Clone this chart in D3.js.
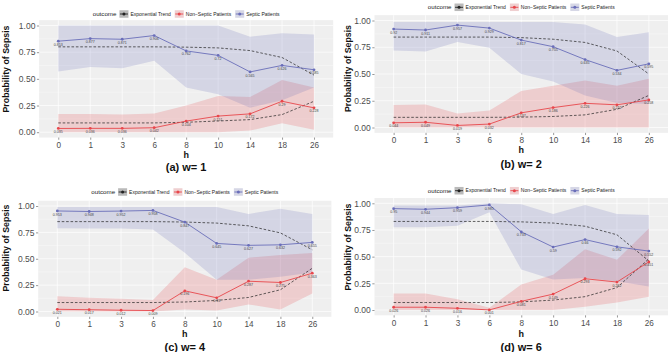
<!DOCTYPE html>
<html><head><meta charset="utf-8">
<script src="https://cdn.jsdelivr.net/npm/d3@7"></script>
<style>body{margin:0;background:#fff}svg{display:block}text{font-family:"Liberation Sans",Arial,Helvetica,sans-serif}</style>
</head><body><svg id="c" width="668" height="352"></svg>
<script>
// ---- data ----
const hours = ["0","1","3","6","8","10","14","18","26"];
const yTicks = [0, 0.25, 0.5, 0.75, 1];
const panelTitles = ["(a) w= 1", "(b) w= 2", "(c) w= 4", "(d) w= 6"];
const legendTitle = "outcome";
const legendLabels = ["Exponential Trend", "Non\u2212Septic Patients", "Septic Patients"];

const septicA = [0.853,0.877,0.871,0.906,0.762,0.72,0.565,0.626,0.585];
const nonSepticA = [0.035,0.036,0.036,0.042,0.104,0.151,0.172,0.29,0.228];
const septicTrendA = [0.80,0.80,0.80,0.80,0.797,0.79,0.765,0.70,0.535];
const nonSepticTrendA = [0.087,0.087,0.087,0.087,0.093,0.105,0.118,0.165,0.29];
const septicUpperA = [1,1,1,1,1,1,0.895,0.927,0.915];
const septicLowerA = [0.57,0.61,0.60,0.67,0.42,0.355,0.23,0.30,0.42];
const nonSepticUpperA = [0.17,0.17,0.165,0.175,0.25,0.34,0.33,0.49,0.42];
const nonSepticLowerA = [0,0,0,0,0,0,0.015,0.085,0.022];

const septicB = [0.92,0.911,0.957,0.929,0.817,0.755,0.635,0.534,0.595];
const nonSepticB = [0.044,0.049,0.019,0.032,0.137,0.186,0.226,0.212,0.258];
const septicTrendB = [0.845,0.845,0.845,0.845,0.84,0.825,0.795,0.715,0.50];
const nonSepticTrendB = [0.095,0.095,0.095,0.095,0.097,0.103,0.118,0.17,0.30];
const septicUpperB = [0.985,0.985,0.985,0.985,0.985,0.985,0.962,0.845,0.89];
const septicLowerB = [0.72,0.71,0.80,0.745,0.50,0.43,0.30,0.23,0.22];
const nonSepticUpperB = [0.21,0.215,0.13,0.16,0.34,0.39,0.44,0.39,0.455];
const nonSepticLowerB = [0,0,0,0,0,0,0,0,0];

const septicC = [0.953,0.948,0.952,0.958,0.847,0.645,0.627,0.632,0.655];
const nonSepticC = [0.021,0.017,0.012,0.009,0.196,0.13,0.287,0.275,0.363];
const septicTrendC = [0.852,0.852,0.852,0.852,0.848,0.838,0.812,0.745,0.585];
const nonSepticTrendC = [0.085,0.085,0.085,0.085,0.09,0.105,0.133,0.206,0.41];
const septicUpperC = [0.99,0.99,0.99,0.99,0.99,0.99,0.925,0.975,0.925];
const septicLowerC = [0.79,0.787,0.787,0.778,0.556,0.30,0.30,0.33,0.37];
const nonSepticUpperC = [0.145,0.13,0.12,0.11,0.42,0.30,0.51,0.535,0.555];
const nonSepticLowerC = [0,0,0,0,0.02,0.01,0.067,0.02,0.17];

const septicD = [0.95,0.944,0.959,0.985,0.733,0.59,0.66,0.592,0.552];
const nonSepticD = [0.026,0.026,0.016,0.001,0.081,0.149,0.293,0.262,0.451];
const septicTrendD = [0.83,0.83,0.83,0.83,0.826,0.815,0.785,0.705,0.46];
const nonSepticTrendD = [0.07,0.07,0.07,0.07,0.076,0.093,0.125,0.21,0.48];
const septicUpperD = [0.98,0.98,0.98,1.0,0.99,0.9,0.985,0.90,0.89];
const septicLowerD = [0.775,0.775,0.79,0.915,0.38,0.285,0.30,0.27,0.22];
const nonSepticUpperD = [0.155,0.155,0.10,0.02,0.24,0.33,0.57,0.47,0.765];
const nonSepticLowerD = [0,0,0,0,0,0,0.03,0.07,0.125];

// ---- styling / layout ----
const BLUE = "#6A6EB9", RED = "#E8474C", PANEL = "#EFEFEF";
const panels = [
  {title: panelTitles[0], s: septicA, n: nonSepticA, st: septicTrendA, nt: nonSepticTrendA, su: septicUpperA, sl: septicLowerA, nu: nonSepticUpperA, nl: nonSepticLowerA,
   L: {x0:39.1, x1:333.2, y1:25.5, y0:132.2, legY:14, hY:155, capY:167, ytX:6, ytY:69}},
  {title: panelTitles[1], s: septicB, n: nonSepticB, st: septicTrendB, nt: nonSepticTrendB, su: septicUpperB, sl: septicLowerB, nu: nonSepticUpperB, nl: nonSepticLowerB,
   L: {x0:374.5, x1:668, y1:20.5, y0:127.5, legY:7.3, hY:149.5, capY:164, ytX:348, ytY:68.5}},
  {title: panelTitles[2], s: septicC, n: nonSepticC, st: septicTrendC, nt: nonSepticTrendC, su: septicUpperC, sl: septicLowerC, nu: nonSepticUpperC, nl: nonSepticLowerC,
   L: {x0:38.2, x1:331.4, y1:206, y0:311.5, legY:192, hY:333.5, capY:346.7, ytX:6, ytY:248}},
  {title: panelTitles[3], s: septicD, n: nonSepticD, st: septicTrendD, nt: nonSepticTrendD, su: septicUpperD, sl: septicLowerD, nu: nonSepticUpperD, nl: nonSepticLowerD,
   L: {x0:374.5, x1:668, y1:203.3, y0:310, legY:190.7, hY:333.5, capY:346.7, ytX:348, ytY:247}}
];

const svg = d3.select("#c");

panels.forEach(p => {
  const L = p.L;
  const g = svg.append("g");
  const x = d3.scalePoint().domain(hours).range([L.x0, L.x1]).padding(0.6);
  const y = d3.scaleLinear().domain([0, 1]).range([L.y0, L.y1]);
  const top = y(1.05), bot = y(-0.05);

  g.append("rect").attr("x", L.x0).attr("y", top).attr("width", L.x1 - L.x0).attr("height", bot - top).attr("fill", PANEL);
  d3.range(0.125, 1.05, 0.25).forEach(v => g.append("line").attr("x1", L.x0).attr("x2", L.x1).attr("y1", y(v)).attr("y2", y(v)).attr("stroke", "#fff").attr("stroke-width", 0.35));
  yTicks.forEach(v => g.append("line").attr("x1", L.x0).attr("x2", L.x1).attr("y1", y(v)).attr("y2", y(v)).attr("stroke", "#fff").attr("stroke-width", 0.7));
  hours.forEach(h => g.append("line").attr("x1", x(h)).attr("x2", x(h)).attr("y1", top).attr("y2", bot).attr("stroke", "#fff").attr("stroke-width", 0.7));

  const idx = hours.map((h, i) => i);
  const area = (lo, hi) => d3.area().x(i => x(hours[i])).y0(i => y(lo[i])).y1(i => y(hi[i]))(idx);
  const line = arr => d3.line().x(i => x(hours[i])).y(i => y(arr[i]))(idx);

  g.append("path").attr("d", area(p.nl, p.nu)).attr("fill", RED).attr("fill-opacity", 0.2);
  g.append("path").attr("d", area(p.sl, p.su)).attr("fill", BLUE).attr("fill-opacity", 0.2);

  [p.nt, p.st].forEach(t => g.append("path").attr("d", line(t)).attr("fill", "none").attr("stroke", "#222").attr("stroke-width", 0.7).attr("stroke-dasharray", "2.6,1.8"));
  [[p.n, RED], [p.s, BLUE]].forEach(([arr, col]) => {
    g.append("path").attr("d", line(arr)).attr("fill", "none").attr("stroke", col).attr("stroke-width", 0.9);
    g.selectAll(null).data(idx).enter().append("circle").attr("cx", i => x(hours[i])).attr("cy", i => y(arr[i])).attr("r", 1.4).attr("fill", col);
    g.selectAll(null).data(idx).enter().append("text").attr("x", i => x(hours[i])).attr("y", i => y(arr[i]) + 4.6)
      .attr("text-anchor", "middle").attr("font-size", 3.6).attr("fill", "#444").text(i => String(arr[i]));
  });

  const ya = g.append("g").attr("transform", `translate(${L.x0},0)`).call(d3.axisLeft(y).tickValues(yTicks).tickFormat(d3.format(".2f")).tickSize(2.2).tickPadding(1.5));
  ya.select(".domain").remove();
  ya.selectAll("line").attr("stroke", "#333").attr("stroke-width", 0.5);
  ya.selectAll("text").attr("font-size", 8.5).attr("fill", "#4D4D4D").attr("font-family", null);
  const xa = g.append("g").attr("transform", `translate(0,${bot})`).call(d3.axisBottom(x).tickSize(2.2).tickPadding(2.5));
  xa.select(".domain").remove();
  xa.selectAll("line").attr("stroke", "#333").attr("stroke-width", 0.5);
  xa.selectAll("text").attr("font-size", 8.2).attr("fill", "#4D4D4D").attr("font-family", null);

  const cx = (L.x0 + L.x1) / 2;
  g.append("text").attr("x", cx).attr("y", L.hY).attr("dy", "0.35em").attr("text-anchor", "middle").attr("font-size", 9).attr("font-weight", "bold").attr("fill", "#111").text("h");
  g.append("text").attr("transform", `translate(${L.ytX},${L.ytY}) rotate(-90)`).attr("dy", "0.35em").attr("text-anchor", "middle").attr("font-size", 8.8).attr("font-weight", "bold").attr("fill", "#111").text("Probability of Sepsis");
  g.append("text").attr("x", cx).attr("y", L.capY).attr("dy", "0.35em").attr("text-anchor", "middle").attr("font-size", 11).attr("font-weight", "bold").attr("fill", "#111").text(p.title);

  const lg = g.append("g");
  let cur = 0;
  const tt = lg.append("text").attr("x", 0).attr("y", L.legY).attr("dy", "0.35em").attr("font-size", 6.2).attr("fill", "#222").text(legendTitle);
  cur += tt.node().getComputedTextLength() + 3;
  const keyCols = ["#222", RED, BLUE];
  const keyFill = ["#8C8C8C", RED, BLUE];
  legendLabels.forEach((lab, k) => {
    const kw = 9, kh = 7.5;
    lg.append("rect").attr("x", cur).attr("y", L.legY - kh / 2).attr("width", kw).attr("height", kh).attr("fill", "#F2F2F2");
    lg.append("rect").attr("x", cur).attr("y", L.legY - kh / 2).attr("width", kw).attr("height", kh).attr("fill", keyFill[k]).attr("fill-opacity", k === 0 ? 0.55 : 0.2);
    lg.append("line").attr("x1", cur + 0.5).attr("x2", cur + kw - 0.5).attr("y1", L.legY).attr("y2", L.legY).attr("stroke", keyCols[k]).attr("stroke-width", 0.9);
    lg.append("circle").attr("cx", cur + kw / 2).attr("cy", L.legY).attr("r", 1.5).attr("fill", keyCols[k]);
    cur += kw + 2;
    const t = lg.append("text").attr("x", cur).attr("y", L.legY).attr("dy", "0.35em").attr("font-size", 5).attr("fill", "#222").text(lab);
    cur += t.node().getComputedTextLength() + 4;
  });
  const totalW = cur - 4;
  lg.attr("transform", `translate(${cx - totalW / 2},0)`);
});
</script></body></html>
